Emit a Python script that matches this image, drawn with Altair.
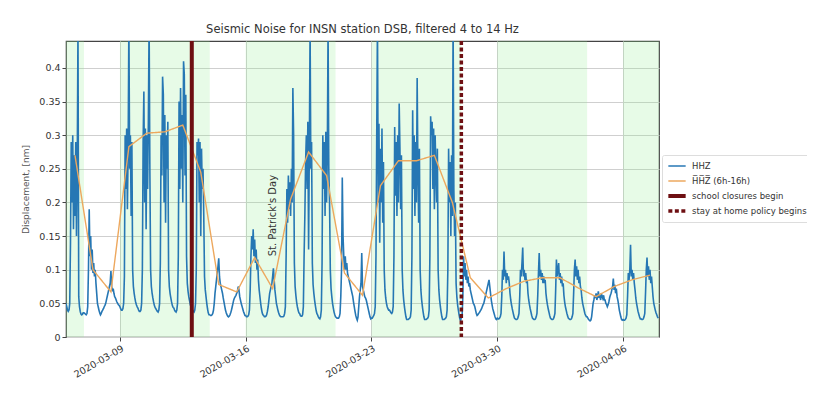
import altair as alt
import pandas as pd

# ---------------- data ----------------
first_day = "2020-03-06"
n_days = 33
# hourly HHZ displacement (h00 .. h23) for each day starting 2020-03-06
hhz_hourly = [
    [0.050,0.045,0.040,0.038,0.040,0.050,0.140,0.290,0.200,0.300,0.160,0.270,0.180,0.290,0.150,0.250,0.460,0.060,0.045,0.038,0.034,0.033,0.034,0.036],
    [0.036,0.035,0.034,0.033,0.035,0.045,0.100,0.190,0.120,0.150,0.100,0.130,0.095,0.110,0.090,0.100,0.080,0.065,0.050,0.045,0.040,0.036,0.033,0.035],
    [0.038,0.040,0.042,0.045,0.047,0.050,0.055,0.060,0.065,0.070,0.075,0.080,0.098,0.075,0.068,0.072,0.065,0.060,0.058,0.055,0.052,0.050,0.048,0.047],
    [0.045,0.042,0.040,0.040,0.042,0.050,0.090,0.300,0.220,0.310,0.190,0.280,0.470,0.250,0.300,0.180,0.290,0.100,0.075,0.065,0.058,0.052,0.048,0.045],
    [0.043,0.040,0.038,0.038,0.040,0.050,0.100,0.290,0.365,0.200,0.310,0.160,0.300,0.220,0.320,0.470,0.250,0.100,0.075,0.065,0.058,0.052,0.047,0.044],
    [0.042,0.040,0.038,0.037,0.040,0.050,0.110,0.300,0.240,0.387,0.360,0.200,0.330,0.170,0.300,0.250,0.320,0.100,0.075,0.065,0.058,0.052,0.047,0.044],
    [0.043,0.040,0.038,0.037,0.040,0.050,0.120,0.350,0.220,0.370,0.250,0.330,0.200,0.410,0.390,0.240,0.360,0.120,0.080,0.068,0.060,0.054,0.048,0.045],
    [0.042,0.040,0.038,0.037,0.040,0.050,0.100,0.290,0.270,0.295,0.200,0.290,0.150,0.280,0.220,0.250,0.180,0.090,0.070,0.060,0.050,0.042,0.036,0.033],
    [0.033,0.032,0.032,0.033,0.035,0.040,0.050,0.065,0.075,0.085,0.095,0.105,0.117,0.090,0.080,0.075,0.070,0.065,0.058,0.052,0.046,0.040,0.036,0.033],
    [0.031,0.030,0.031,0.033,0.036,0.040,0.045,0.050,0.055,0.058,0.060,0.062,0.065,0.068,0.075,0.070,0.060,0.055,0.050,0.046,0.042,0.038,0.035,0.032],
    [0.032,0.030,0.030,0.031,0.033,0.040,0.070,0.120,0.150,0.130,0.160,0.120,0.145,0.110,0.130,0.100,0.115,0.085,0.070,0.060,0.050,0.042,0.036,0.033],
    [0.032,0.030,0.030,0.031,0.033,0.038,0.045,0.055,0.065,0.070,0.075,0.080,0.090,0.102,0.085,0.070,0.060,0.050,0.045,0.040,0.036,0.033,0.031,0.030],
    [0.030,0.030,0.030,0.031,0.035,0.045,0.120,0.220,0.170,0.240,0.190,0.230,0.180,0.250,0.200,0.370,0.300,0.110,0.075,0.062,0.052,0.045,0.040,0.036],
    [0.035,0.032,0.031,0.031,0.033,0.045,0.120,0.180,0.260,0.300,0.220,0.320,0.130,0.280,0.460,0.250,0.290,0.110,0.078,0.065,0.055,0.047,0.040,0.035],
    [0.033,0.030,0.028,0.027,0.030,0.040,0.110,0.300,0.220,0.290,0.180,0.305,0.200,0.270,0.460,0.250,0.200,0.100,0.072,0.060,0.050,0.043,0.037,0.033],
    [0.030,0.029,0.028,0.028,0.028,0.030,0.035,0.060,0.100,0.237,0.150,0.120,0.100,0.120,0.100,0.110,0.095,0.090,0.085,0.080,0.075,0.070,0.065,0.060],
    [0.052,0.045,0.038,0.032,0.028,0.025,0.030,0.045,0.060,0.070,0.080,0.125,0.075,0.070,0.065,0.060,0.058,0.055,0.050,0.045,0.040,0.035,0.030,0.027],
    [0.028,0.028,0.030,0.032,0.035,0.045,0.120,0.300,0.470,0.200,0.317,0.140,0.280,0.200,0.310,0.170,0.260,0.100,0.070,0.058,0.050,0.045,0.042,0.040],
    [0.040,0.038,0.036,0.035,0.037,0.045,0.120,0.312,0.210,0.290,0.180,0.300,0.200,0.347,0.280,0.190,0.270,0.100,0.070,0.055,0.045,0.037,0.030,0.026],
    [0.026,0.026,0.027,0.028,0.030,0.040,0.120,0.337,0.220,0.300,0.180,0.290,0.200,0.385,0.250,0.170,0.280,0.100,0.070,0.055,0.045,0.037,0.030,0.026],
    [0.026,0.026,0.027,0.028,0.030,0.040,0.120,0.328,0.300,0.320,0.220,0.310,0.190,0.300,0.250,0.200,0.280,0.100,0.070,0.055,0.045,0.037,0.030,0.026],
    [0.026,0.026,0.027,0.028,0.030,0.040,0.100,0.280,0.200,0.260,0.150,0.270,0.180,0.470,0.220,0.150,0.200,0.080,0.060,0.048,0.040,0.033,0.027,0.024],
    [0.030,0.030,0.060,0.120,0.090,0.110,0.085,0.100,0.080,0.090,0.075,0.080,0.070,0.065,0.060,0.055,0.050,0.048,0.045,0.040,0.035,0.032,0.033,0.035],
    [0.036,0.038,0.040,0.042,0.045,0.048,0.050,0.055,0.060,0.065,0.070,0.075,0.080,0.085,0.075,0.065,0.055,0.048,0.042,0.038,0.034,0.030,0.027,0.026],
    [0.028,0.027,0.027,0.028,0.030,0.035,0.060,0.100,0.085,0.127,0.090,0.100,0.080,0.095,0.085,0.090,0.080,0.065,0.055,0.048,0.042,0.037,0.032,0.028],
    [0.027,0.026,0.026,0.027,0.030,0.035,0.060,0.100,0.090,0.110,0.133,0.090,0.100,0.085,0.095,0.080,0.085,0.065,0.055,0.048,0.042,0.037,0.032,0.028],
    [0.027,0.026,0.026,0.027,0.030,0.035,0.060,0.095,0.125,0.090,0.100,0.085,0.095,0.080,0.090,0.080,0.085,0.065,0.055,0.048,0.042,0.037,0.032,0.028],
    [0.027,0.026,0.026,0.027,0.030,0.035,0.070,0.115,0.090,0.100,0.110,0.085,0.095,0.080,0.090,0.075,0.080,0.062,0.052,0.045,0.040,0.035,0.031,0.028],
    [0.027,0.026,0.026,0.027,0.030,0.035,0.065,0.100,0.115,0.090,0.105,0.085,0.100,0.080,0.090,0.075,0.070,0.058,0.050,0.045,0.040,0.035,0.032,0.030],
    [0.030,0.028,0.026,0.025,0.024,0.025,0.030,0.040,0.050,0.055,0.062,0.058,0.065,0.055,0.060,0.068,0.058,0.062,0.055,0.065,0.060,0.057,0.062,0.055],
    [0.055,0.050,0.048,0.045,0.048,0.052,0.058,0.062,0.065,0.070,0.075,0.087,0.070,0.078,0.065,0.072,0.060,0.055,0.048,0.040,0.035,0.030,0.026,0.025],
    [0.026,0.025,0.025,0.026,0.028,0.033,0.060,0.095,0.085,0.100,0.137,0.090,0.100,0.085,0.095,0.080,0.070,0.058,0.050,0.044,0.038,0.034,0.030,0.027],
    [0.027,0.026,0.026,0.027,0.030,0.035,0.065,0.100,0.118,0.090,0.105,0.085,0.100,0.080,0.090,0.075,0.060,0.050,0.045,0.040,0.036,0.033,0.030,0.028],
]
# daily mean of HHZ between 6h and 16h (plotted at noon of each day)
hhz_day_mean = [0.270, 0.100, 0.067, 0.283, 0.303, 0.305, 0.315, 0.245, 0.078, 0.067,
                0.118, 0.072, 0.205, 0.275, 0.240, 0.095, 0.062, 0.225, 0.262, 0.262,
                0.270, 0.200, 0.088, 0.058, 0.072, 0.083, 0.088, 0.088, 0.073, 0.060,
                0.075, 0.085, 0.092]
# weekday (school/work day) shading: Monday 00:00 to Saturday 00:00
week_start = ["2020-03-02", "2020-03-09", "2020-03-16", "2020-03-23", "2020-03-30", "2020-04-06"]
week_end = ["2020-03-07", "2020-03-14", "2020-03-21", "2020-03-28", "2020-04-04", "2020-04-11"]
event_dates = ["2020-03-13T00:00:00", "2020-03-28T00:00:00"]
event_names = ["school closures begin", "stay at home policy begins"]
note_date = ["2020-03-17T12:00:00"]
note_value = [0.12]
note_text = ["St. Patrick's Day"]
x_ticks = ["2020-03-09", "2020-03-16", "2020-03-23", "2020-03-30", "2020-04-06"]
y_ticks = [0, 0.05, 0.1, 0.15, 0.2, 0.25, 0.3, 0.35, 0.4]

S_HHZ = "HHZ"
S_MEAN = "H\u0305H\u0305Z\u0305 (6h-16h)"
series_domain = [S_HHZ, S_MEAN, event_names[0], event_names[1]]

# ---------------- tables ----------------
days = pd.date_range(first_day, periods=n_days, freq="D")
hhz_rows = []
for d, vals in zip(days, hhz_hourly):
    for h, v in enumerate(vals):
        hhz_rows.append({"t": (d + pd.Timedelta(hours=h)).strftime("%Y-%m-%dT%H:%M:%S"), "v": v, "series": S_HHZ})
hhz_df = pd.DataFrame(hhz_rows)
mean_df = pd.DataFrame({
    "t": [(d + pd.Timedelta(hours=12)).strftime("%Y-%m-%dT%H:%M:%S") for d in days],
    "v": hhz_day_mean, "series": S_MEAN})
week_df = pd.DataFrame({"s": [w + "T00:00:00" for w in week_start], "e": [w + "T00:00:00" for w in week_end]})
event_df = pd.DataFrame({"t": event_dates, "series": event_names})
note_df = pd.DataFrame({"t": note_date, "v": note_value, "label": note_text})

W, H = 593, 296
x_scale = alt.Scale(domain=[alt.DateTime(year=2020, month=3, date=6),
                            alt.DateTime(year=2020, month=4, date=8)])
y_scale = alt.Scale(domain=[0, 0.44], nice=False)
x_axis = alt.Axis(values=[alt.DateTime(year=int(s[:4]), month=int(s[5:7]), date=int(s[8:])) for s in x_ticks],
                  format="%Y-%m-%d", labelAngle=330, labelAlign="right", labelBaseline="top",
                  title=None, grid=True)
y_axis = alt.Axis(values=y_ticks, format="~g", title="Displacement, [nm]", grid=True)

x_enc = alt.X("t:T", scale=x_scale, axis=x_axis)
y_enc = alt.Y("v:Q", scale=y_scale, axis=y_axis)

color_enc = alt.Color("series:N", scale=alt.Scale(domain=series_domain,
                      range=["#2677b4", "#eda85e", "#6e0f12", "#6e0f12"]),
                      legend=alt.Legend(title=None))
dash_enc = alt.StrokeDash("series:N", scale=alt.Scale(domain=series_domain,
                          range=[[1, 0], [1, 0], [1, 0], [4, 2.5]]), legend=alt.Legend(title=None))
width_enc = alt.StrokeWidth("series:O", scale=alt.Scale(type="ordinal", domain=series_domain,
                            range=[1.6, 1.4, 4, 3.5]), legend=alt.Legend(title=None))

weeks = alt.Chart(week_df).mark_rect(color="lightgreen", opacity=0.22, clip=True).encode(
    x=alt.X("s:T", scale=x_scale, axis=x_axis), x2="e:T")

hhz = alt.Chart(hhz_df).mark_line(clip=True).encode(
    x=x_enc, y=y_enc, color=color_enc, strokeDash=dash_enc, strokeWidth=width_enc)

mean = alt.Chart(mean_df).mark_line(clip=True).encode(
    x=x_enc, y=y_enc, color=color_enc, strokeDash=dash_enc, strokeWidth=width_enc)

events = alt.Chart(event_df).mark_rule().encode(
    x=x_enc, color=color_enc, strokeDash=dash_enc, strokeWidth=width_enc)

note = alt.Chart(note_df).mark_text(angle=270, align="left", baseline="middle",
                                    fontSize=10, color="#333333", font="DejaVu Sans").encode(
    x=x_enc, y=y_enc, text="label:N")

chart = alt.layer(weeks, hhz, mean, events, note).properties(
    width=W, height=H,
    autosize=alt.AutoSizeParams(type="none"),
    padding={"left": 58, "top": 33, "right": 148, "bottom": 47},
    title=alt.TitleParams("Seismic Noise for INSN station DSB, filtered 4 to 14 Hz",
                          fontSize=11.5, font="DejaVu Sans", fontWeight="normal",
                          color="#333333", offset=4),
).configure_view(stroke="#444444", strokeWidth=1.2).configure_axis(
    labelFont="DejaVu Sans", labelFontSize=9.5, labelColor="#333333",
    titleFont="DejaVu Sans", titleFontSize=9, titleFontWeight="normal", titleColor="#555555",
    gridColor="#cfcfcf", gridWidth=1, tickColor="#444444", tickSize=4,
    domain=False, labelPadding=2, titlePadding=8,
).configure_legend(
    orient="none", legendX=596, legendY=114, symbolType="stroke", symbolSize=300,
    labelFont="DejaVu Sans", labelFontSize=8.5, labelColor="#333333", labelLimit=130,
    strokeColor="#dddddd", fillColor="white", padding=4, rowPadding=1, clipHeight=14,
    cornerRadius=2,
)

chart.save("out.html", embed_options={"renderer": "svg", "actions": False})
